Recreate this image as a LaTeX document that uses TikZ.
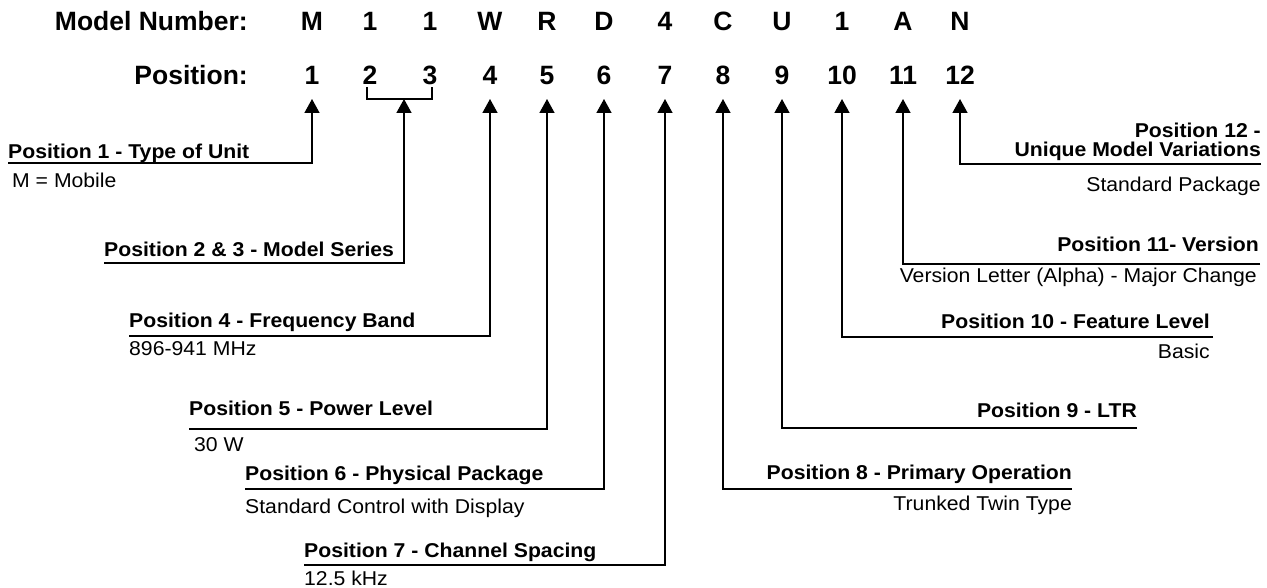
\documentclass[tikz,border=0pt]{standalone}
\usepackage{fontspec}
\setmainfont{Liberation Sans}
\newfontfamily\lblfont{Liberation Sans}[FakeStretch=1.06]
\usetikzlibrary{arrows.meta}
\begin{document}
\begin{tikzpicture}[x=1pt,y=-1pt,
  hdr/.style={font=\fontsize{26.5}{30}\selectfont\bfseries, inner sep=0pt},
  lbl/.style={font=\lblfont\fontsize{20}{22}\selectfont\bfseries, inner sep=0pt},
  desc/.style={font=\lblfont\fontsize{20}{22}\selectfont, inner sep=0pt},
  lead/.style={line width=1.5pt, -{Triangle[width=15pt,length=14pt]}},
  brk/.style={line width=1.5pt}]
\useasboundingbox (0,0) rectangle (1267,588);

% heading rows
\node[hdr, anchor=base east] (mnlab) at (248,31) {Model Number:};
\node[hdr, anchor=base east] (poslab) at (248,85) {Position:};
\foreach \x/\c/\n in {312/M/1, 370/1/2, 430/1/3, 490/W/4, 547/R/5, 604/D/6,
                      665/4/7, 723/C/8, 782/U/9, 842/1/10, 903/A/11, 960/N/12}{
  \node[hdr, anchor=base] (m\n) at (\x,31) {\c};
  \node[hdr, anchor=base] (p\n) at (\x,85) {\n};
  \coordinate (t\n) at (\x,99);
}

% bracket joining positions 2 and 3
\coordinate (bl) at (367,87);
\coordinate (br) at (432,87);
\coordinate (t23) at (404,99);
\draw[brk] (bl) |- (t23) -| (br);

% leader corners
\coordinate (c1) at (8,163);
\coordinate (c23) at (104,263);
\coordinate (c4) at (129,336);
\coordinate (c5) at (189,429);
\coordinate (c6) at (245,489);
\coordinate (c7) at (304,565);
\coordinate (c8) at (1072,489);
\coordinate (c9) at (1137,428);
\coordinate (c10) at (1213,337);
\coordinate (c11) at (1260,264);
\coordinate (c12) at (1261,164);

\draw[lead] (c1) -| (t1);
\draw[lead] (c23) -| (t23);
\draw[lead] (c4) -| (t4);
\draw[lead] (c5) -| (t5);
\draw[lead] (c6) -| (t6);
\draw[lead] (c7) -| (t7);
\draw[lead] (c8) -| (t8);
\draw[lead] (c9) -| (t9);
\draw[lead] (c10) -| (t10);
\draw[lead] (c11) -| (t11);
\draw[lead] (c12) -| (t12);

% left-hand descriptions
\node[lbl, anchor=base west] (n1) at (8,159) {Position 1 - Type of Unit};
\node[desc, anchor=base west] (d1) at (12,188) {M = Mobile};
\node[lbl, anchor=base west] (n23) at (104,257) {Position 2 \& 3 - Model Series};
\node[lbl, anchor=base west] (n4) at (129,327) {Position 4 - Frequency Band};
\node[desc, anchor=base west] (d4) at (129,355) {896-941 MHz};
\node[lbl, anchor=base west] (n5) at (189,415) {Position 5 - Power Level};
\node[desc, anchor=base west] (d5) at (194,451) {30 W};
\node[lbl, anchor=base west] (n6) at (245,480) {Position 6 - Physical Package};
\node[desc, anchor=base west] (d6) at (245,513) {Standard Control with Display};
\node[lbl, anchor=base west] (n7) at (304,557) {Position 7 - Channel Spacing};
\node[desc, anchor=base west] (d7) at (304,585) {12.5 kHz};

% right-hand descriptions
\node[lbl, anchor=base east] (n8) at (1072,479) {Position 8 - Primary Operation};
\node[desc, anchor=base east] (d8) at (1072,510) {Trunked Twin Type};
\node[lbl, anchor=base east] (n9) at (1137,417) {Position 9 - LTR};
\node[lbl, anchor=base east] (n10) at (1210,328) {Position 10 - Feature Level};
\node[desc, anchor=base east] (d10) at (1210,358) {Basic};
\node[lbl, anchor=base east] (n11) at (1259,252) {Position 11- Version};
\node[desc, anchor=base east] (d11) at (1257,283) {Version Letter (Alpha) - Major Change};
\node[lbl, anchor=base east] (n12a) at (1261,138) {Position 12 -};
\node[lbl, anchor=base east] (n12b) at (1261,157) {Unique Model Variations};
\node[desc, anchor=base east] (d12) at (1261,192) {Standard Package};
\end{tikzpicture}
\end{document}
